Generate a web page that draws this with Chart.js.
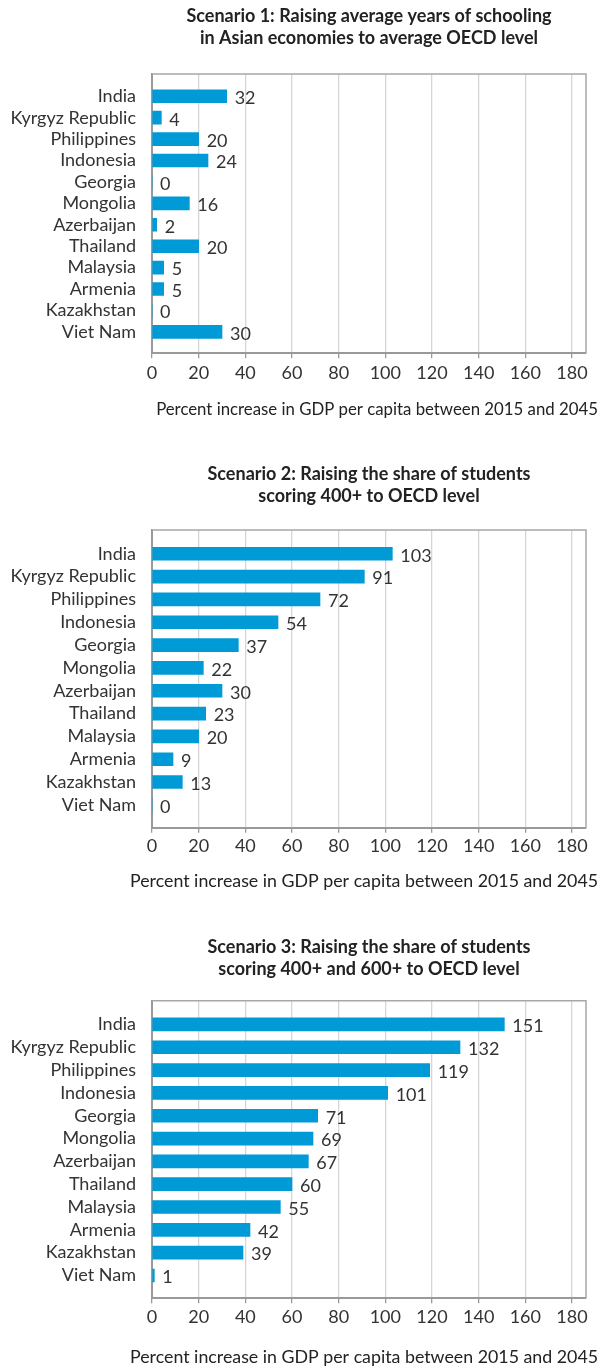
<!DOCTYPE html>
<html>
<head>
<meta charset="utf-8">
<script src="https://cdn.jsdelivr.net/npm/chart.js@4.4.1/dist/chart.umd.min.js"></script>
<style>
  body { margin: 0; background: #fff; }
  canvas { position: absolute; left: 0; }
</style>
</head>
<body>
<canvas id="scenario1" width="610" height="440" style="top:0"></canvas>
<canvas id="scenario2" width="610" height="480" style="top:440px"></canvas>
<canvas id="scenario3" width="610" height="448" style="top:920px"></canvas>
<script>
const economies = ['India', 'Kyrgyz Republic', 'Philippines', 'Indonesia', 'Georgia', 'Mongolia',
                   'Azerbaijan', 'Thailand', 'Malaysia', 'Armenia', 'Kazakhstan', 'Viet Nam'];
const scenario1Values = [32, 4, 20, 24, 0, 16, 2, 20, 5, 5, 0, 30];
const scenario2Values = [103, 91, 72, 54, 37, 22, 30, 23, 20, 9, 13, 0];
const scenario3Values = [151, 132, 119, 101, 71, 69, 67, 60, 55, 42, 39, 1];
const xTickValues = [0, 20, 40, 60, 80, 100, 120, 140, 160, 180];
const xAxisTitle = 'Percent increase in GDP per capita between 2015 and 2045';

const FONT = 'Lato';
const TEXT = '#333333';
const BAR_BLUE = '#009ad6';

// light grey box around the plot (top and right edges; left/bottom are the axes)
const plotFrame = {
    id: 'plotFrame',
    beforeDatasetsDraw(chart) {
        const {ctx, chartArea: a} = chart;
        ctx.save();
        ctx.strokeStyle = '#a8a8a8';
        ctx.lineWidth = 1.5;
        ctx.beginPath();
        ctx.moveTo(a.left, a.top);
        ctx.lineTo(a.right, a.top);
        ctx.lineTo(a.right, a.bottom);
        ctx.stroke();
        ctx.restore();
    }
};

// value printed just past the end of each bar
const valueLabels = {
    id: 'valueLabels',
    afterDatasetsDraw(chart) {
        const {ctx} = chart;
        const points = chart.data.datasets[0].data;
        ctx.save();
        ctx.font = '18px ' + FONT;
        ctx.fillStyle = TEXT;
        ctx.textAlign = 'left';
        ctx.textBaseline = 'middle';
        chart.getDatasetMeta(0).data.forEach((bar, i) => {
            ctx.fillText(String(points[i].x), bar.x + 8, bar.y + 2);
        });
        ctx.restore();
    }
};

// x-axis caption, wider than the plot so it is drawn here rather than squeezed by the scale title
const axisCaption = {
    id: 'axisCaption',
    afterDraw(chart, args, opts) {
        const {ctx} = chart;
        ctx.save();
        ctx.font = opts.size + 'px ' + FONT;
        ctx.fillStyle = '#222';
        ctx.textAlign = 'center';
        ctx.textBaseline = 'middle';
        ctx.fillText(opts.text, opts.x, opts.y);
        ctx.restore();
    }
};

function drawScenario(id, title, values, box) {
    const canvas = document.getElementById(id);
    return new Chart(canvas, {
        type: 'bar',
        data: {
            datasets: [{
                data: values.map((v, i) => ({x: v, y: i})),
                backgroundColor: BAR_BLUE,
                barThickness: 13,
                borderWidth: 0
            }]
        },
        options: {
            indexAxis: 'y',
            responsive: false,
            animation: false,
            layout: { padding: { left: 0, right: 24, top: 0, bottom: 0 } },
            plugins: {
                legend: { display: false },
                tooltip: { enabled: false },
                title: {
                    display: true,
                    text: title,
                    fullSize: false,
                    color: '#222',
                    font: { family: FONT, size: 18, weight: 'bold', lineHeight: '22px' },
                    padding: box.titlePad
                },
                axisCaption: {
                    text: xAxisTitle,
                    size: box.captionSize,
                    x: box.captionX,
                    y: box.captionY
                }
            },
            scales: {
                x: {
                    type: 'linear',
                    min: 0,
                    max: 186,
                    afterBuildTicks: s => { s.ticks = xTickValues.map(v => ({value: v})); },
                    afterFit: s => { s.height = canvas.height - box.bottom; },
                    grid: { color: '#d6d6d6', lineWidth: 1.3, tickLength: 5, tickColor: '#999' },
                    border: { color: '#999', width: 2 },
                    ticks: { color: TEXT, padding: box.tickPad, font: { family: FONT, size: 18 } }
                },
                y: {
                    type: 'linear',
                    offset: false,
                    reverse: true,
                    min: -1.04,
                    max: 12,
                    afterBuildTicks: s => { s.ticks = economies.map((_, i) => ({value: i})); },
                    afterFit: s => { s.width = 152; },
                    grid: { display: false, drawTicks: false, offset: false },
                    border: { color: '#999', width: 2 },
                    ticks: {
                        autoSkip: false,
                        color: TEXT,
                        padding: 16,
                        font: { family: FONT, size: 18 },
                        callback: v => economies[v]
                    }
                }
            }
        },
        plugins: [plotFrame, valueLabels, axisCaption]
    });
}

drawScenario('scenario1',
    ['Scenario 1: Raising average years of schooling', 'in Asian economies to average OECD level'],
    scenario1Values,
    { titlePad: {top: 5, bottom: 25}, bottom: 353.3, tickPad: 4,
      captionSize: 16.8, captionX: 377, captionY: 410 });

drawScenario('scenario2',
    ['Scenario 2: Raising the share of students', 'scoring 400+ to OECD level'],
    scenario2Values,
    { titlePad: {top: 23, bottom: 23}, bottom: 387.7, tickPad: 3,
      captionSize: 17.8, captionX: 364, captionY: 441 });

drawScenario('scenario3',
    ['Scenario 3: Raising the share of students', 'scoring 400+ and 600+ to OECD level'],
    scenario3Values,
    { titlePad: {top: 16, bottom: 20.7}, bottom: 378.3, tickPad: 3,
      captionSize: 17.8, captionX: 364, captionY: 437 });
</script>
</body>
</html>
